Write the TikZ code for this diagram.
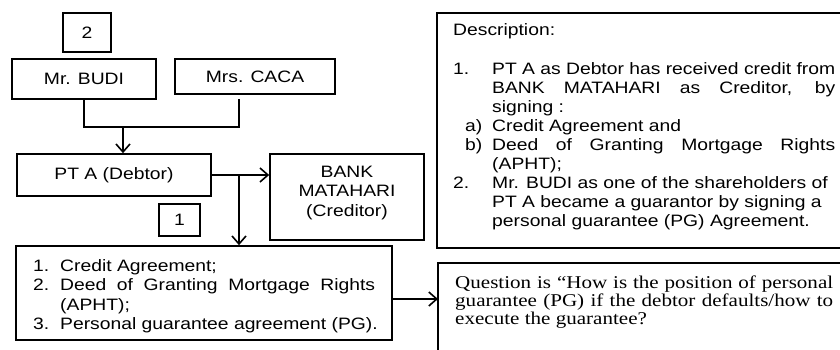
\documentclass[tikz,border=0pt]{standalone}
\usepackage{fontspec}
\setmainfont{Liberation Sans}[FakeStretch=1.17]
\newfontfamily\qfont{Liberation Serif}[FakeStretch=1.17]
\usetikzlibrary{arrows.meta}
\tikzset{
  box/.style={draw, line width=1.6pt, inner sep=0pt},
  txt/.style={anchor=base west, inner sep=0pt, font=\fontsize{16.5}{19.5}\selectfont},
  ctxt/.style={anchor=center, inner sep=0pt, align=center, font=\fontsize{16.5}{19.5}\selectfont},
  qtxt/.style={anchor=base west, inner sep=0pt, font=\qfont\fontsize{18}{18.5}\selectfont},
  conn/.style={line width=1.6pt},
  arr/.style={conn, -{Straight Barb[length=8pt,width=14pt]}}
}
\begin{document}
\begin{tikzpicture}[x=1pt,y=-1pt]
\useasboundingbox (0,0) rectangle (840,349);
\clip (0,0) rectangle (840,349);

% left boxes
\node[box, minimum width=48pt, minimum height=39pt, font=\fontsize{16.5}{19.5}\selectfont] (two) at (87,32.5) {2};
\node[box, minimum width=144pt, minimum height=40pt, font=\fontsize{16.5}{19.5}\selectfont] (budi) at (84,79) {Mr. BUDI};
\node[box, minimum width=160pt, minimum height=35pt, font=\fontsize{16.5}{19.5}\selectfont] (caca) at (255,76.5) {Mrs. CACA};
\node[box, minimum width=194pt, minimum height=42pt, font=\fontsize{16.5}{19.5}\selectfont] (pta) at (114,175) {PT A (Debtor)};
\node[box, minimum width=154pt, minimum height=86pt] (bank) at (347,197) {};
\node[ctxt] (banktxt) at (347,193) {BANK\\MATAHARI\\(Creditor)};
\node[box, minimum width=41pt, minimum height=32pt, font=\fontsize{16.5}{19.5}\selectfont] (one) at (179.5,220) {1};
\node[box, minimum width=376pt, minimum height=94pt] (list) at (204,293) {};

% list text
\node[txt] (l1n) at (33,271) {1.};
\node[txt] (l1t) at (60,271) {Credit Agreement;};
\node[txt] (l2n) at (33,290.5) {2.};
\node[txt] (l2t) at (60,290.5) {\makebox[315pt][s]{Deed of Granting Mortgage Rights}};
\node[txt] (l2b) at (60,310) {(APHT);};
\node[txt] (l3n) at (33,329.5) {3.};
\node[txt] (l3t) at (60,329.5) {Personal guarantee agreement (PG).};

% connectors
\coordinate (hl) at (0,127);
\coordinate (cacab) at (239,99);
\draw[conn] (budi.south) -- (budi.south |- hl) -- (cacab |- hl) -- (cacab);
\coordinate (ja) at (123,127);
\draw[arr] (ja) -- (ja |- pta.north);
\draw[arr] (pta.east) -- (bank.west |- pta.east);
\coordinate (jb) at (239,175);
\draw[arr] (jb) -- (jb |- list.north);

% description box (clipped at right)
\coordinate (dtl) at (437,13);
\coordinate (dbl) at (437,248);
\draw[conn] (850,13) -- (dtl) -- (dbl) -- (850,248);
\node[txt] (d0) at (453,35) {Description:};
\node[txt] (d1n) at (453,74) {1.};
\node[txt] (d1a) at (492,74) {\makebox[343pt][s]{PT A as Debtor has received credit from}};
\node[txt] (d1b) at (492,93.1) {\makebox[343pt][s]{BANK MATAHARI as Creditor, by}};
\node[txt] (d1c) at (492,112.2) {signing :};
\node[txt] (dan) at (465,131.3) {a)};
\node[txt] (dat) at (492,131.3) {Credit Agreement and};
\node[txt] (dbn) at (465,150.4) {b)};
\node[txt] (dbt) at (492,150.4) {\makebox[343pt][s]{Deed of Granting Mortgage Rights}};
\node[txt] (dbu) at (492,169.5) {(APHT);};
\node[txt] (d2n) at (453,188.6) {2.};
\node[txt] (d2a) at (492,188.6) {Mr. BUDI as one of the shareholders of};
\node[txt] (d2b) at (492,207.7) {PT A became a guarantor by signing a};
\node[txt] (d2c) at (492,226.8) {personal guarantee (PG) Agreement.};

% question box (clipped at right and bottom)
\coordinate (qtl) at (438,263);
\draw[conn] (850,263) -- (qtl) -- (438,360);
\node[qtxt] (q1) at (455,288) {\makebox[378pt][s]{Question is “How is the position of personal}};
\node[qtxt] (q2) at (455,306) {\makebox[378pt][s]{guarantee (PG) if the debtor defaults/how to}};
\node[qtxt] (q3) at (455,324) {execute the guarantee?};

\coordinate (la) at (392,299);
\draw[arr] (la) -- (la -| qtl);
\end{tikzpicture}
\end{document}
